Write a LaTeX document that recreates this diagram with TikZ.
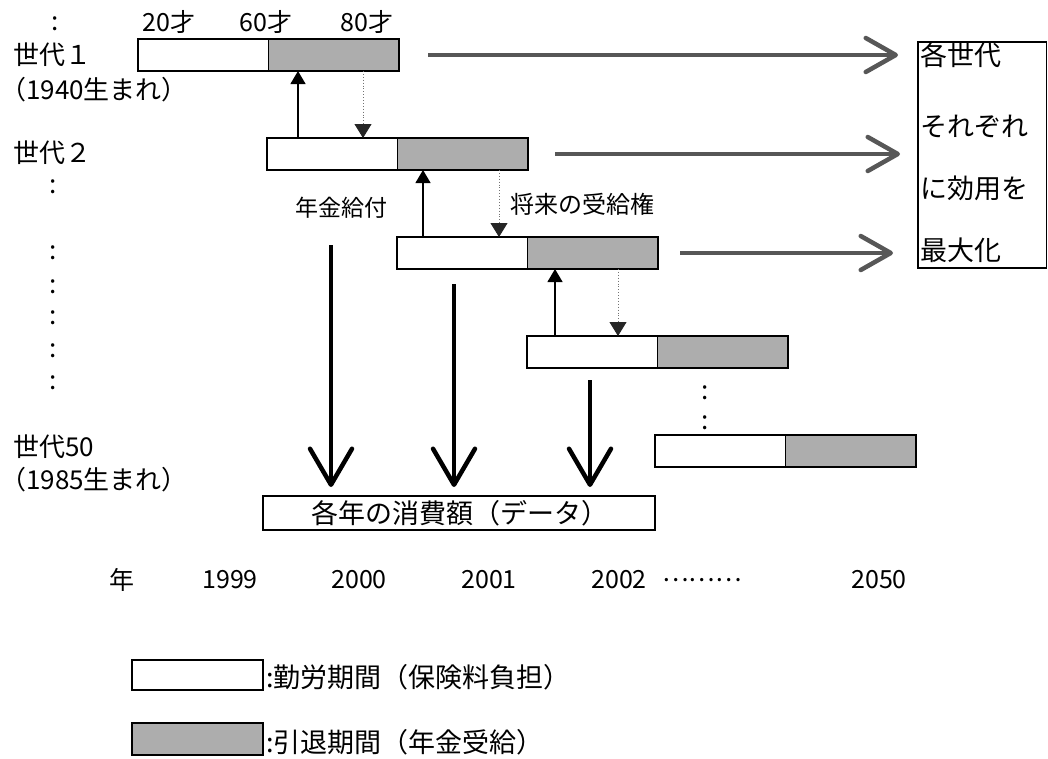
\documentclass[tikz,border=0pt]{standalone}
\usepackage{fontspec}
\setmainfont{Noto Sans CJK JP}
\usetikzlibrary{arrows.meta,calc}
\tikzset{
  lbl/.style={inner sep=0pt, font=\fontsize{26}{30}\selectfont},
  agelbl/.style={inner sep=0pt, font=\fontsize{25}{29}\selectfont},
  yr/.style={inner sep=0pt, font=\fontsize{25}{29}\selectfont},
  goaltxt/.style={inner sep=0pt, anchor=west, font=\fontsize{27}{31}\selectfont},
  legtxt/.style={inner sep=0pt, anchor=west, font=\fontsize{27}{31}\selectfont},
  workbox/.style={draw, line width=1.8pt, fill=white, minimum width=130.5pt, minimum height=32pt, inner sep=0pt, outer sep=0pt, anchor=north west},
  retbox/.style={workbox, fill=black!32},
  uparr/.style={line width=1.2pt, -{Triangle[width=15pt,length=13pt]}},
  dotarr/.style={black!55, line width=0.9pt, dotted, -{Triangle[width=17pt,length=14pt,color=black!85,fill=black!85]}},
  bigright/.style={black!66, line width=4.5pt, -{Straight Barb[length=30pt,width=34pt,round]}},
  bigdown/.style={black, line width=4.5pt, -{Straight Barb[length=36pt,width=42pt,round]}},
}
\begin{document}
\begin{tikzpicture}[x=1pt,y=-1pt]
\path[use as bounding box, fill=white] (0,0) rectangle (1048,758);

% age labels
\node[lbl] (topdots) at (55,24) {:};
\node[agelbl] (a20) at (169,22) {20才};
\node[agelbl] (a60) at (266,22) {60才};
\node[agelbl] (a80) at (367,22) {80才};

% generation labels
\node[lbl, anchor=west] (gen1) at (13,55) {世代１};
\node[lbl, anchor=west] (gen1b) at (0,90) {（1940生まれ）};
\node[lbl, anchor=west] (gen2) at (13,153) {世代２};
\node[lbl, anchor=west] (gen50) at (13,447) {世代50};
\node[lbl, anchor=west] (gen50b) at (0,480) {（1985生まれ）};
\foreach \yy [count=\i] in {187,253,287,318,351,383}
  \node[lbl] (ld\i) at (53,\yy) {:};

% bars
\node[workbox] (w1) at (138,39) {};
\node[retbox] (r1) at (w1.north east) {};
\node[workbox] (w2) at (267,138) {};
\node[retbox] (r2) at (w2.north east) {};
\node[workbox] (w3) at (397,237) {};
\node[retbox] (r3) at (w3.north east) {};
\node[workbox] (w4) at (527,336) {};
\node[retbox] (r4) at (w4.north east) {};
\node[workbox] (w5) at (655,435) {};
\node[retbox] (r5) at (w5.north east) {};
\node[lbl] (vd1) at (705,393) {:};
\node[lbl] (vd2) at (705,423) {:};

% up arrows (pension payments) and dotted down arrows (future claims)
\coordinate (u1) at ([xshift=31pt]w2.north west);
\coordinate (u2) at ([xshift=26pt]w3.north west);
\coordinate (u3) at ([xshift=28pt]w4.north west);
\draw[uparr] (u1) -- (u1 |- r1.south);
\draw[uparr] (u2) -- (u2 |- r2.south);
\draw[uparr] (u3) -- (u3 |- r3.south);
\coordinate (d1) at ([xshift=96pt]w2.north west);
\coordinate (d2) at ([xshift=102pt]w3.north west);
\coordinate (d3) at ([xshift=91pt]w4.north west);
\draw[dotarr] (d1 |- r1.south) -- (d1);
\draw[dotarr] (d2 |- r2.south) -- (d2);
\draw[dotarr] (d3 |- r3.south) -- (d3);

\node[lbl, font=\fontsize{23}{27}\selectfont] (pay) at (341,208) {年金給付};
\node[lbl, anchor=west, font=\fontsize{24}{28}\selectfont] (claim) at (510,204) {将来の受給権};

% goal box
\node[draw, line width=1.5pt, minimum width=128.5pt, minimum height=226pt, inner sep=0pt, outer sep=0pt, anchor=north west] (goal) at (918,42) {};
\node[goaltxt] (g1) at (920,55) {各世代};
\node[goaltxt] (g2) at (920,127) {それぞれ};
\node[goaltxt] (g3) at (920,188) {に効用を};
\node[goaltxt] (g4) at (920,250) {最大化};

\draw[bigright, shorten >=20pt] ([xshift=29pt]r1.east) -- (r1.east -| goal.west);
\draw[bigright, shorten >=18pt] ([xshift=27pt]r2.east) -- (r2.east -| goal.west);
\draw[bigright, shorten >=25pt] ([xshift=22pt]r3.east) -- (r3.east -| goal.west);

% data box and down arrows
\node[draw, line width=1.5pt, minimum width=392pt, minimum height=34pt, inner sep=0pt, outer sep=0pt, anchor=north west] (dat) at (263,496) {};
\node[lbl, font=\fontsize{27}{31}\selectfont] (dattxt) at (460,513) {各年の消費額（データ）};
\coordinate (s1) at (331,245);
\coordinate (s2) at (454,284);
\coordinate (s3) at (590,380);
\draw[bigdown, shorten >=9pt] (s1) -- (s1 |- dat.north);
\draw[bigdown, shorten >=9pt] (s2) -- (s2 |- dat.north);
\draw[bigdown, shorten >=9pt] (s3) -- (s3 |- dat.north);

% years
\node[yr] (ynen) at (122,580) {年};
\node[yr] (y1999) at (230,580) {1999};
\node[yr] (y2000) at (359,580) {2000};
\node[yr] (y2001) at (489,580) {2001};
\node[yr] (y2002) at (619,580) {2002};
\node[yr, anchor=west] (ydots) at (662,580) {………};
\node[yr] (y2050) at (879,580) {2050};

% legend
\node[workbox, minimum width=131pt, minimum height=30pt] (legw) at (132,660) {};
\node[legtxt] (legwt) at (266,677) {:勤労期間（保険料負担）};
\node[retbox, minimum width=131pt, minimum height=32pt] (legr) at (132,723) {};
\node[legtxt] (legrt) at (266,742) {:引退期間（年金受給）};
\end{tikzpicture}
\end{document}
